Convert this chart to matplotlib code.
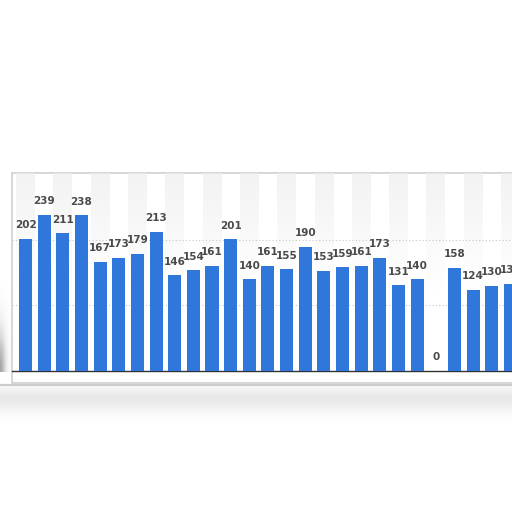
import matplotlib
matplotlib.use("Agg")
import matplotlib.pyplot as plt
import numpy as np
from matplotlib.patches import Rectangle

# values (last one is cut at the right edge)
values = [202, 239, 211, 238, 167, 173, 179, 213, 146, 154, 161, 201, 140,
          161, 155, 190, 153, 159, 161, 173, 131, 140, 0, 158, 124, 130, 133]
bar_color = "#2f77db"
label_color = "#4a4a4a"

W = H = 512
fig = plt.figure(figsize=(5.12, 5.12), dpi=100)
fig.patch.set_facecolor("white")

# background layer for the card and its soft shadow
bg = fig.add_axes([0, 0, 1, 1])
bg.set_xlim(0, W)
bg.set_ylim(H, 0)
bg.axis("off")

# blurred shadow under the card
yy = np.linspace(0, 1, 60)[:, None]
xx = np.linspace(0, 1, 200)[None, :]
shade = np.exp(-((yy - 0.4) / 0.35) ** 2) * np.ones_like(xx)
bg.imshow(shade, extent=(0, W, 422, 383), cmap="Greys", vmin=0, vmax=6,
          aspect="auto", interpolation="bicubic", zorder=0)
# left side shadow
side = np.exp(-((np.linspace(0, 1, 40)[None, :]) / 0.5) ** 2) * \
    np.exp(-((np.linspace(0, 1, 60)[:, None] - 1) / 0.5) ** 2)
bg.imshow(side, extent=(0, 13, 372, 280), cmap="Greys", vmin=0, vmax=2.2,
          aspect="auto", interpolation="bicubic", zorder=0)
bg.plot([0, W], [385, 385], color="#c4c4c4", lw=1.2, zorder=1)

# the white card
bg.add_patch(Rectangle((12, 173), 520, 210, facecolor="white",
                       edgecolor="#d0d0d0", lw=1.2, zorder=2))

# main chart
ax = fig.add_axes([12 / W, (H - 370.5) / H, (530 - 12) / W, (370.5 - 173) / H])
ax.patch.set_alpha(0)
n = len(values)
x = np.arange(n)

# faint column stripes that fade downwards
fade = np.zeros((50, 1, 4))
fade[..., :3] = 0.93
fade[:, 0, 3] = np.linspace(0, 0.7, 50)
for i in range(0, n + 1, 2):
    ax.imshow(fade, extent=(i - 0.5, i + 0.5, 120, 303), aspect="auto",
              origin="lower", zorder=0, interpolation="bilinear")

ax.bar(x, values, width=0.7, color=bar_color, zorder=3)
for xi, v in zip(x, values):
    ax.annotate(str(v), (xi, v), xytext=(0, 6), textcoords="offset points",
                ha="center", va="bottom", fontsize=7.5, fontweight="bold",
                color=label_color, zorder=4)

ax.set_xlim(-0.724, 27.05)
ax.set_ylim(0, 303)
ax.set_yticks([100, 200])
ax.yaxis.grid(True, linestyle=(0, (1, 2)), color="#c8c8c8", lw=0.8)
ax.set_axisbelow(True)
ax.tick_params(left=False, bottom=False, labelleft=False, labelbottom=False)
for s in ["top", "right", "left"]:
    ax.spines[s].set_visible(False)
ax.spines["bottom"].set_color("#333333")
ax.spines["bottom"].set_linewidth(1.0)

fig.savefig("out.png", dpi=100)
